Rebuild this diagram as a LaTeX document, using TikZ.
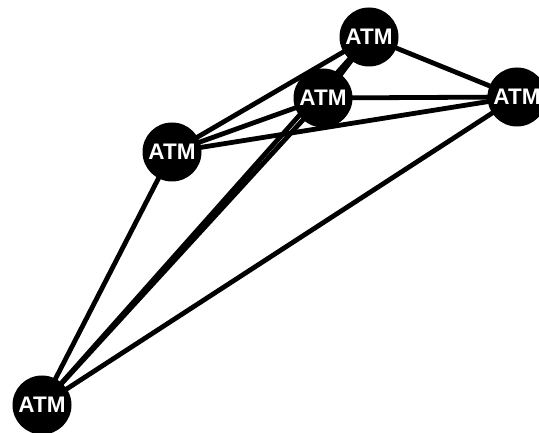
\documentclass[tikz,border=0pt]{standalone}
\usepackage{fontspec}
\setmainfont{Liberation Sans}
\usetikzlibrary{backgrounds}
\begin{document}
\begin{tikzpicture}[x=1pt,y=1pt,
  atm/.style={circle,fill=black,text=white,minimum size=59pt,inner sep=0pt,font=\bfseries\fontsize{22.5}{22.5}\selectfont},
  link/.style={line width=4.8pt,black}]
\useasboundingbox (0,0) rectangle (539,433);
\node[atm] (T) at (369,396) {ATM};
\node[atm] (M) at (323,335) {ATM};
\node[atm] (R) at (517,336) {ATM};
\node[atm] (L) at (172,281) {ATM};
\node[atm] (B) at (42,28) {ATM};
\begin{scope}[on background layer]
\draw[link] (T.center) -- (M.center);
\draw[link] (T.center) -- (R.center);
\draw[link] (T.center) -- (L.center);
\draw[link] (T.center) -- (B.center);
\draw[link] (M.center) -- (R.center);
\draw[link] (M.center) -- (L.center);
\draw[link] (M.center) -- (B.center);
\draw[link] (R.center) -- (L.center);
\draw[link] (R.center) -- (B.center);
\draw[link] (L.center) -- (B.center);
\end{scope}
\end{tikzpicture}
\end{document}
